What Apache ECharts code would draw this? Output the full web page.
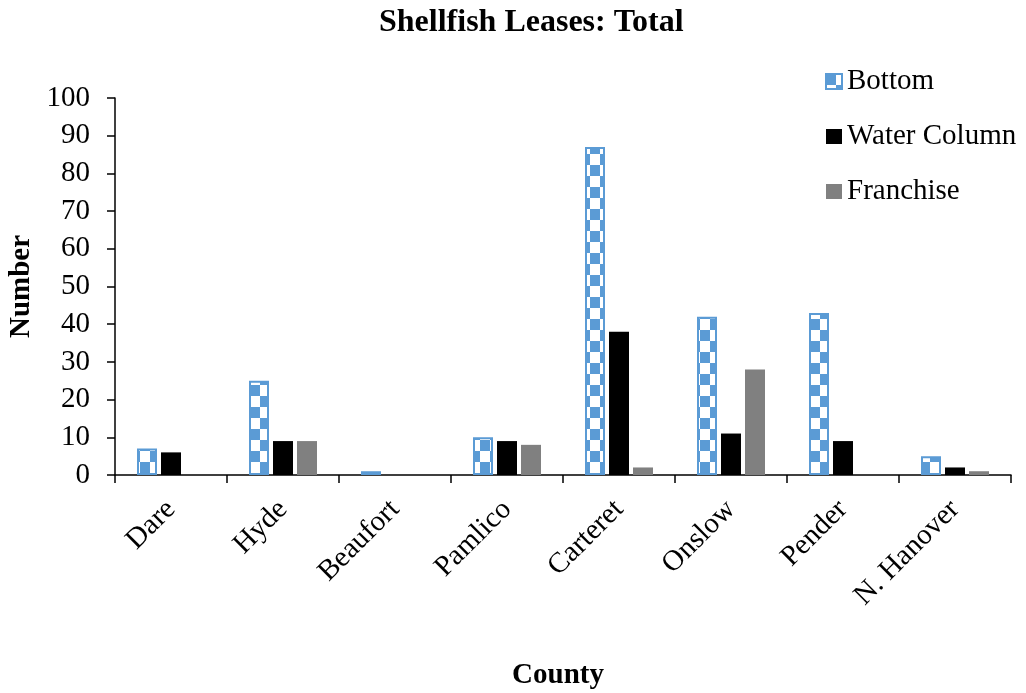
<!DOCTYPE html>
<html>
<head>
<meta charset="utf-8">
<script src="https://cdn.jsdelivr.net/npm/echarts@6/dist/echarts.min.js"></script>
<style>
  html, body { margin: 0; padding: 0; background: #fff; }
  #chart { width: 1026px; height: 693px; }
</style>
</head>
<body>
<div id="chart"></div>
<script>
const counties = ['Dare', 'Hyde', 'Beaufort', 'Pamlico', 'Carteret', 'Onslow', 'Pender', 'N. Hanover']
const bottom = [7, 25, 1, 10, 87, 42, 43, 5]
const waterColumn = [6, 9, 0, 9, 38, 11, 9, 2]
const franchise = [0, 9, 0, 8, 2, 28, 0, 1]

const serif = '"Liberation Serif", "Times New Roman", serif'

// Checkerboard fill for the Bottom series
const makeChecker = () => {
  const c = document.createElement('canvas')
  c.width = 20
  c.height = 22
  const ctx = c.getContext('2d')
  ctx.fillStyle = '#ffffff'
  ctx.fillRect(0, 0, 20, 22)
  ctx.fillStyle = '#5b9bd5'
  ctx.fillRect(0, 0, 10, 11)
  ctx.fillRect(10, 11, 10, 11)
  return c
}

const chart = echarts.init(document.getElementById('chart'))

const options = {
  animation: false,
  title: {
    text: 'Shellfish Leases: Total',
    left: 374,
    top: 2,
    textStyle: { fontFamily: serif, fontSize: 32, fontWeight: 'bold', color: '#000' }
  },
  legend: {
    orient: 'vertical',
    left: 820,
    top: 62,
    itemGap: 26,
    itemWidth: 16,
    itemHeight: 15,
    icon: 'rect',
    textStyle: { fontFamily: serif, fontSize: 29, color: '#000' },
    data: ['Bottom', 'Water Column', 'Franchise']
  },
  grid: {
    left: 115,
    right: 15,
    top: 98,
    bottom: 218,
    outerBoundsMode: 'none'
  },
  xAxis: {
    type: 'category',
    data: counties,
    name: 'County',
    nameLocation: 'middle',
    nameGap: 186,
    nameTextStyle: { fontFamily: serif, fontSize: 29, fontWeight: 'bold', color: '#000', padding: [0, 10, 0, 0] },
    axisLine: { lineStyle: { color: '#000', width: 1.5 } },
    axisTick: { show: true, length: 8, lineStyle: { color: '#000', width: 1.5 } },
    axisLabel: {
      rotate: 45,
      margin: 30,
      fontFamily: serif,
      fontSize: 29,
      color: '#000'
    }
  },
  yAxis: {
    type: 'value',
    min: 0,
    max: 100,
    interval: 10,
    name: 'Number',
    nameLocation: 'middle',
    nameGap: 78,
    nameTextStyle: { fontFamily: serif, fontSize: 29, fontWeight: 'bold', color: '#000' },
    splitLine: { show: false },
    axisLine: { show: true, lineStyle: { color: '#000', width: 1.5 } },
    axisTick: { show: true, length: 8, lineStyle: { color: '#000', width: 1.5 } },
    axisLabel: { fontFamily: serif, fontSize: 29, color: '#000', margin: 25 }
  },
  series: [
    {
      name: 'Bottom',
      type: 'bar',
      data: bottom,
      barWidth: 20,
      barGap: '20%',
      itemStyle: {
        color: { image: makeChecker(), repeat: 'repeat' },
        borderColor: '#5b9bd5',
        borderWidth: 2
      }
    },
    {
      name: 'Water Column',
      type: 'bar',
      data: waterColumn,
      barWidth: 20,
      barGap: '20%',
      itemStyle: { color: '#000000' }
    },
    {
      name: 'Franchise',
      type: 'bar',
      data: franchise,
      barWidth: 20,
      barGap: '20%',
      itemStyle: { color: '#808080' }
    }
  ]
}
chart.setOption(options)
</script>
</body>
</html>
